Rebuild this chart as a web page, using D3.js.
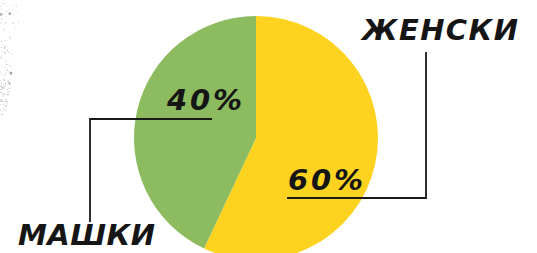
<!DOCTYPE html>
<html>
<head>
<meta charset="utf-8">
<script src="https://cdn.jsdelivr.net/npm/d3@7"></script>
<style>
  html, body { margin: 0; padding: 0; background: #fff; }
  svg { display: block; }
  .lbl { font-family: "DejaVu Sans", sans-serif; font-weight: bold; font-style: italic; fill: #151515; }
</style>
</head>
<body>
<svg id="chart" width="537" height="253"></svg>
<script>
// data
const categories = ["ЖЕНСКИ", "МАШКИ"];
const shares = [57, 43];          // drawn slice sizes
const pctLabels = ["60%", "40%"]; // printed labels
const colors = ["#fdd31f", "#8dbb5f"];

const svg = d3.select("#chart");
const width = 537, height = 253;
const cx = 256, cy = 138, radius = 122;

// faint grunge specks on the left edge (decoration only)
let seed = 7;
function rnd() { seed = (seed * 16807) % 2147483647; return (seed - 1) / 2147483646; }
const specks = svg.append("g").attr("class", "specks");
for (let i = 0; i < 140; i++) {
    const y = rnd() * 115;
    const x = rnd() * 22 * (1 - y / 160);
    specks.append("circle")
        .attr("cx", x).attr("cy", y)
        .attr("r", rnd() < 0.05 ? 1.4 : 0.5)
        .attr("fill", "#555")
        .attr("opacity", 0.15 + rnd() * 0.4);
}

const pie = d3.pie().sort(null).value(d => d.value);
const arc = d3.arc().innerRadius(0).outerRadius(radius);

const slices = pie(categories.map((c, i) => ({ name: c, value: shares[i], label: pctLabels[i] })));

const g = svg.append("g").attr("transform", `translate(${cx},${cy})`);
g.selectAll("path.slice")
    .data(slices)
    .join("path")
    .attr("class", "slice")
    .attr("d", arc)
    .attr("fill", (d, i) => colors[i]);

// leader lines
const lines = [
    [[287, 198], [426, 198], [426, 52]],
    [[212, 119], [90, 119], [90, 222]]
];
svg.selectAll("path.leader")
    .data(lines)
    .join("path")
    .attr("class", "leader")
    .attr("d", d3.line())
    .attr("fill", "none")
    .attr("stroke", "#1a1a1a")
    .attr("stroke-width", 1.8);

// category names
const catPos = [
    { x: 362, y: 40, w: 156 },
    { x: 18, y: 245, w: 137 }
];
svg.selectAll("text.cat")
    .data(categories)
    .join("text")
    .attr("class", "lbl cat")
    .attr("x", (d, i) => catPos[i].x)
    .attr("y", (d, i) => catPos[i].y)
    .attr("font-size", 29)
    .attr("textLength", (d, i) => catPos[i].w)
    .attr("lengthAdjust", "spacing")
    .text(d => d);

// percentage labels
const pctPos = [
    { x: 288, y: 190, w: 75 },
    { x: 167, y: 110, w: 75 }
];
svg.selectAll("text.pct")
    .data(pctLabels)
    .join("text")
    .attr("class", "lbl pct")
    .attr("x", (d, i) => pctPos[i].x)
    .attr("y", (d, i) => pctPos[i].y)
    .attr("font-size", 29)
    .attr("textLength", (d, i) => pctPos[i].w)
    .attr("lengthAdjust", "spacing")
    .text(d => d);
</script>
</body>
</html>
